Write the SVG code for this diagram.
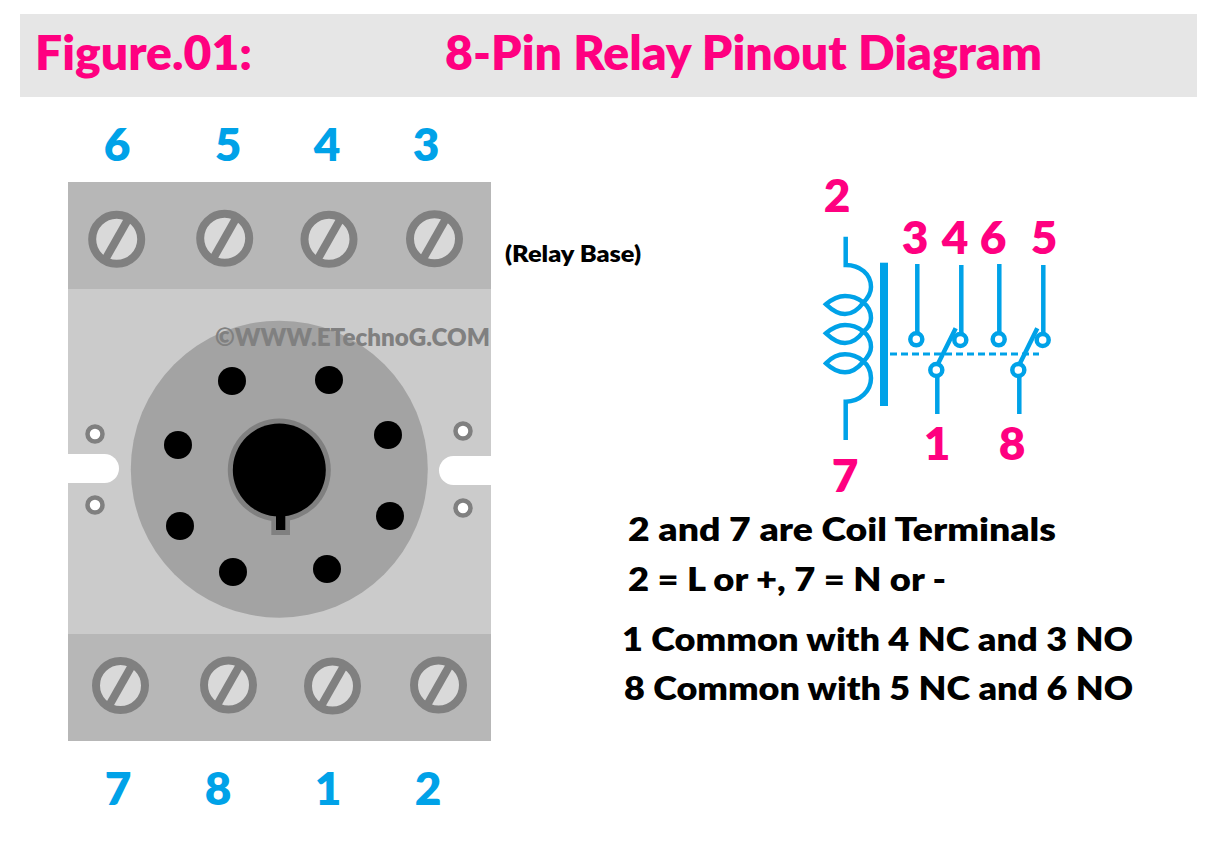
<svg xmlns="http://www.w3.org/2000/svg" width="1209" height="843" viewBox="0 0 1209 843">
<style>
text{font-family:Lato,"Open Sans",sans-serif;font-weight:800}
.title{font-size:47px;fill:#ff0080}
.pin{font-size:46px;fill:#00a2e8;text-anchor:middle}
.sym{font-size:46px;fill:#ff0080;text-anchor:middle}
.note{font-size:32px;fill:#000}
.ring{fill:#d9d9d9;stroke:#808080;stroke-width:8}
.slash{stroke:#808080;stroke-width:8;fill:none}
.band{fill:#b7b7b7}
.hole{fill:#000}
.mini{fill:#fff;stroke:#808080;stroke-width:4.5}
.w{stroke:#00a2e8;stroke-width:4.5;fill:none}
.t{fill:#fff;stroke:#00a2e8;stroke-width:4.5}
</style>
<defs>
<g id="screw"><circle class="ring" r="24.5"/><path class="slash" d="M12.500 -22 L-12.500 22"/></g>
</defs>
<rect width="1209" height="843" fill="#fff"/>
<g id="banner">
<rect x="20" y="14" width="1177" height="83" fill="#e6e6e6"/>
<text class="title" x="35" y="70" textLength="217" lengthAdjust="spacingAndGlyphs">Figure.01:</text>
<text class="title" x="445" y="70" textLength="597" lengthAdjust="spacingAndGlyphs">8-Pin Relay Pinout Diagram</text>
</g>
<g id="top-labels">
<text class="pin" x="117" y="161">6</text>
<text class="pin" x="228" y="161">5</text>
<text class="pin" x="327" y="161">4</text>
<text class="pin" x="426" y="161">3</text>
</g>
<g id="relay-base">
<rect x="68" y="182" width="423" height="559" fill="#cbcbcb"/>
<rect class="band" x="68" y="182" width="423" height="107"/>
<rect class="band" x="68" y="634" width="423" height="107"/>
<path fill="#fff" d="M68 454H104.500A14.500 14.500 0 0 1 104.500 483H68Z"/>
<path fill="#fff" d="M491 456H453.500A14.500 14.500 0 0 0 453.500 485H491Z"/>
<circle cx="279.300" cy="469.200" r="148.500" fill="#a3a3a3"/>
<circle class="mini" cx="95" cy="434" r="7.500"/>
<circle class="mini" cx="95" cy="505" r="7.500"/>
<circle class="mini" cx="463" cy="431" r="7.500"/>
<circle class="mini" cx="463" cy="508" r="7.500"/>
<circle class="hole" cx="232" cy="381" r="14"/>
<circle class="hole" cx="329" cy="380" r="14"/>
<circle class="hole" cx="388" cy="435" r="14"/>
<circle class="hole" cx="390" cy="516" r="14"/>
<circle class="hole" cx="327" cy="569" r="14"/>
<circle class="hole" cx="233" cy="572" r="14"/>
<circle class="hole" cx="180" cy="526" r="14"/>
<circle class="hole" cx="178" cy="445" r="14"/>
<circle cx="279.300" cy="470" r="51.500" fill="#808080"/>
<rect x="271.300" y="510" width="18.700" height="25" fill="#808080"/>
<circle class="hole" cx="279.300" cy="470" r="46.500"/>
<rect class="hole" x="276" y="505" width="9.300" height="25"/>
<use href="#screw" x="116.700" y="239.300"/>
<use href="#screw" x="224.700" y="238.300"/>
<use href="#screw" x="329" y="239.300"/>
<use href="#screw" x="434.500" y="238.800"/>
<use href="#screw" x="120.500" y="685.500"/>
<use href="#screw" x="228.500" y="685"/>
<use href="#screw" x="332.500" y="686"/>
<use href="#screw" x="438.500" y="685"/>
<text x="215" y="346" font-size="24.500" fill="#808080" textLength="275" lengthAdjust="spacingAndGlyphs">©WWW.ETechnoG.COM</text>
</g>
<g id="base-caption"><text x="505" y="262" font-size="23" fill="#000" textLength="136" lengthAdjust="spacingAndGlyphs">(Relay Base)</text></g>
<g id="bottom-labels">
<text class="pin" x="118" y="805">7</text>
<text class="pin" x="218" y="805">8</text>
<text class="pin" x="328" y="805">1</text>
<text class="pin" x="428" y="805">2</text>
</g>
<g id="connectors">
<path class="w" d="M845.700 236.700V265C860 265 871 274 871 287C871 294 867 299 863 303C858 310 852 314 845 314C837 314 831 309 826 304.300C831 300 837 296 845 296C857 296 871 304 871 318C871 324 867 329 863 332C858 339 852 343 845 343C837 343 831 338 826 333.300C831 329 837 325 845 325C857 325 871 333 871 347C871 353 867 358 863 362C858 368 852 372.300 845 372.300C837 372.300 831 368 826 363.300C831 358 837 354.300 845 354.300C857 354.300 871 363 871 378C871 391 860 401.700 845.700 401.700V440"/>
<rect x="880" y="262.700" width="8" height="143.300" fill="#00a2e8"/>
<path d="M890 354H1039" stroke="#00a2e8" stroke-width="3" stroke-dasharray="7 4" fill="none"/>
<path class="w" d="M917.300 264V333M961.300 265V335M999.300 264V333M1043.300 265V335M937.300 376V414M1019.300 376V414M938.300 363.300L955.700 328.300M1020 363.300L1037.300 328.300"/>
</g>
<g id="terminals">
<circle class="t" cx="916.300" cy="339.300" r="6"/>
<circle class="t" cx="960.300" cy="340" r="6"/>
<circle class="t" cx="998.700" cy="339.300" r="6"/>
<circle class="t" cx="1042.700" cy="340" r="6"/>
<circle class="t" cx="936.300" cy="370" r="6"/>
<circle class="t" cx="1018.300" cy="370" r="6"/>
</g>
<g id="symbol-labels">
<text class="sym" x="837" y="212">2</text>
<text class="sym" x="915" y="254">3</text>
<text class="sym" x="955" y="254">4</text>
<text class="sym" x="993" y="254">6</text>
<text class="sym" x="1044" y="254">5</text>
<text class="sym" x="937" y="460">1</text>
<text class="sym" x="1012" y="460">8</text>
<text class="sym" x="845" y="492">7</text>
</g>
<g id="notes">
<text class="note" x="628" y="541" textLength="428" lengthAdjust="spacingAndGlyphs">2 and 7 are Coil Terminals</text>
<text class="note" x="628" y="591" textLength="318" lengthAdjust="spacingAndGlyphs">2 = L or +, 7 = N or -</text>
<text class="note" x="622" y="651" textLength="511" lengthAdjust="spacingAndGlyphs">1 Common with 4 NC and 3 NO</text>
<text class="note" x="624" y="700" textLength="509" lengthAdjust="spacingAndGlyphs">8 Common with 5 NC and 6 NO</text>
</g>
</svg>
